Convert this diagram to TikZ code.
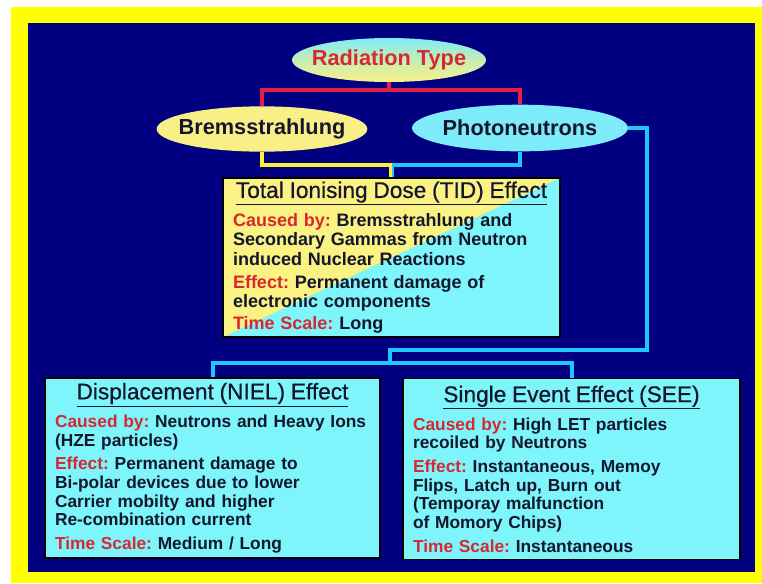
\documentclass[tikz,border=0pt]{standalone}
\usepackage{fontspec}
\setmainfont{Liberation Sans}
\newfontfamily\titlefont[FakeBold=0.6]{Liberation Sans}
\usepackage{xcolor}
\usepackage{tikz}
\usetikzlibrary{shapes.geometric, arrows, arrows.meta, positioning, calc}
\definecolor{bgnavy}{RGB}{0,0,128}
\definecolor{frameyellow}{RGB}{255,255,0}
\definecolor{ovalyellow}{RGB}{248,240,135}
\definecolor{ovalcyan}{RGB}{125,235,248}
\definecolor{boxcyan}{RGB}{125,245,250}
\definecolor{tidyellow}{RGB}{250,242,130}
\definecolor{wirered}{RGB}{228,30,70}
\definecolor{wirecyan}{RGB}{30,200,255}
\definecolor{wireyellow}{RGB}{250,240,60}
\definecolor{labelred}{RGB}{215,40,50}
\definecolor{bodyink}{RGB}{20,22,45}
\tikzstyle{oval} = [ellipse,
inner sep=0pt,
font=\fontsize{16.3}{18}\selectfont\bfseries,
text=bodyink]
\tikzstyle{effect} = [rectangle,
draw=black,
line width=1.2pt,
align=left,
inner xsep=7.5pt,
inner ysep=0pt,
font=\fontsize{13}{14.1}\selectfont\bfseries\frenchspacing,
text=bodyink]
\tikzstyle{splitfill} = [path picture={
\fill[tidyellow] (path picture bounding box.south west) rectangle (path picture bounding box.north east);
\fill[boxcyan] (path picture bounding box.south west) -- (path picture bounding box.north east) -- (path picture bounding box.south east) -- cycle;}]
\tikzstyle{redwire} = [line width=3pt, draw=wirered]
\tikzstyle{cyanwire} = [line width=3pt, draw=wirecyan]
\tikzstyle{yellowwire} = [line width=3pt, draw=wireyellow]
\newcommand{\redlbl}[1]{\textcolor{labelred}{#1}}
\newcommand{\boxtitle}[1]{{\centering\fontsize{17}{20}\titlefont\mdseries\selectfont\underline{#1}\par}\vspace{5pt}}

\begin{document}
\begin{tikzpicture}[x=0.75pt, y=-0.75pt]
\fill[white] (0,0) rectangle (762,583);
\fill[frameyellow] (11,7) rectangle (762,583);
\fill[bgnavy] (28,23) rectangle (755,572);

\node (radtype) [oval, top color=ovalcyan, bottom color=ovalyellow, middle color=ovalyellow!60!ovalcyan, text=labelred,
  minimum width=145.5pt, minimum height=33pt] at (389,60) {\makebox[0pt]{Radiation Type}};
\node (brems) [oval, fill=ovalyellow, minimum width=158pt, minimum height=34pt] at (262,129) {\makebox[0pt]{Bremsstrahlung}};
\node (photo) [oval, fill=ovalcyan, minimum width=162pt, minimum height=35pt] at (520,128) {\makebox[0pt]{Photoneutrons}};

\node (tid) [effect, splitfill, text width=237.75pt, minimum height=119.25pt] at (391.5,257.5) {%
\boxtitle{Total Ionising Dose (TID) Effect}
\fontsize{13.5}{14.6}\selectfont
\redlbl{Caused by:} Bremsstrahlung and\\
Secondary Gammas from Neutron\\
induced Nuclear Reactions\\[2.5pt]
\redlbl{Effect:} Permanent damage of\\
electronic components\\[2.5pt]
\redlbl{Time Scale:} Long};

\node (niel) [effect, fill=boxcyan, text width=236.25pt, minimum height=135pt] at (212.5,468) {%
\boxtitle{Displacement (NIEL) Effect}
\redlbl{Caused by:} Neutrons and Heavy Ions\\
(HZE particles)\\[3.5pt]
\redlbl{Effect:} Permanent damage to\\
Bi-polar devices due to lower\\
Carrier mobilty and higher\\
Re-combination current\\[3.5pt]
\redlbl{Time Scale:} Medium / Long};

\node (see) [effect, fill=boxcyan, text width=237.75pt, minimum height=135.75pt] at (571.5,469) {%
\boxtitle{Single Event Effect (SEE)}
\redlbl{Caused by:} High LET particles\\
recoiled by Neutrons\\[3.5pt]
\redlbl{Effect:} Instantaneous, Memoy\\
Flips, Latch up, Burn out\\
(Temporay malfunction\\
of Momory Chips)\\[3.5pt]
\redlbl{Time Scale:} Instantaneous};

\coordinate (radsplit) at (389,90);
\coordinate (tidjoin) at (391.5,165);
\coordinate (rightbend) at (647,350);
\coordinate (midbend) at (390,350);
\coordinate (lowsplit) at (390,363);

\draw [redwire] (radtype.south) -- (radsplit);
\draw [redwire] (brems.north) |- (radsplit) -| (photo.north);
\draw [yellowwire] (brems.south) |- (tidjoin);
\draw [cyanwire] (photo.south) |- (tidjoin);
\draw [yellowwire, line width=1.6pt] ([xshift=-0.8pt]tidjoin) -- ([xshift=-0.8pt]tid.north);
\draw [cyanwire, line width=1.6pt] ([xshift=0.8pt]tidjoin) -- ([xshift=0.8pt]tid.north);
\draw [cyanwire] (photo.east) -| (rightbend) -- (midbend) -- (lowsplit);
\draw [cyanwire] (niel.north) |- (lowsplit) -| (see.north);
\end{tikzpicture}
\end{document}
